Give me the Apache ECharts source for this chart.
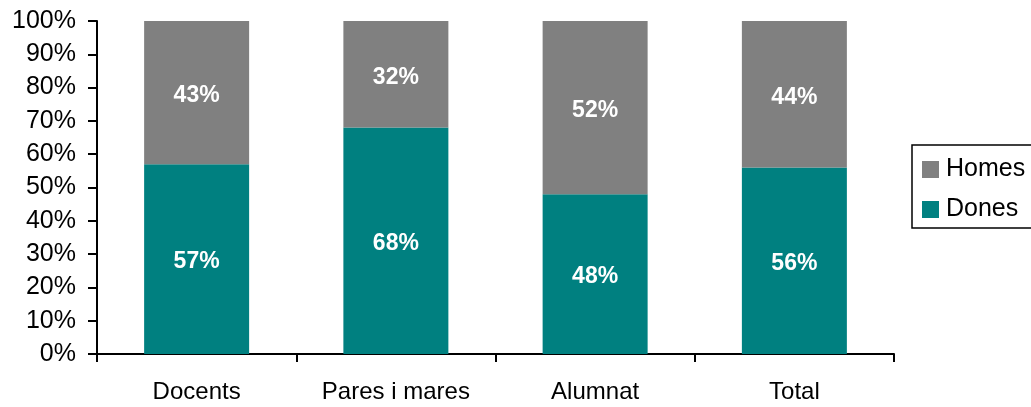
<!DOCTYPE html>
<html>
<head>
<meta charset="utf-8">
<script src="https://cdn.jsdelivr.net/npm/echarts@6/dist/echarts.min.js"></script>
<style>
  html, body { margin: 0; padding: 0; background: #fff; }
  #chart { width: 1031px; height: 407px; }
</style>
</head>
<body>
<div id="chart"></div>
<script>
const categories = ['Docents', 'Pares i mares', 'Alumnat', 'Total']
const dones = [57, 68, 48, 56]
const homes = [43, 32, 52, 44]
const yTicks = [0, 10, 20, 30, 40, 50, 60, 70, 80, 90, 100]

const font = '"Liberation Sans", Arial, sans-serif'
const myChart = echarts.init(document.getElementById('chart'))

const valueLabel = {
  show: true,
  position: 'inside',
  offset: [0, 3],
  color: '#fff',
  fontFamily: font,
  fontWeight: 'bold',
  fontSize: 23,
  formatter: p => p.value + '%'
}

myChart.setOption({
  animation: false,
  grid: {
    left: 97,
    right: 137,
    top: 21,
    bottom: 53
  },
  legend: {
    orient: 'vertical',
    left: 912,
    top: 145,
    data: ['Homes', 'Dones'],
    icon: 'rect',
    itemWidth: 17,
    itemHeight: 17,
    itemGap: 15,
    padding: [12, 30, 6, 10],
    borderColor: '#000',
    borderWidth: 1.5,
    borderRadius: 0,
    textStyle: {
      fontFamily: font,
      fontSize: 25,
      lineHeight: 20,
      color: '#000',
      padding: [0, 0, 0, 2]
    }
  },
  xAxis: {
    type: 'category',
    data: categories,
    axisLine: { lineStyle: { color: '#000', width: 2 } },
    axisTick: { show: true, interval: 0, length: 8, lineStyle: { color: '#000', width: 2 } },
    axisLabel: { interval: 0, color: '#000', fontFamily: font, fontSize: 24, margin: 26 }
  },
  yAxis: {
    type: 'value',
    min: yTicks[0],
    max: yTicks[yTicks.length - 1],
    interval: 10,
    splitLine: { show: false },
    axisLine: { show: true, lineStyle: { color: '#000', width: 2 } },
    axisTick: { show: true, length: 9, lineStyle: { color: '#000', width: 2 } },
    axisLabel: {
      color: '#000',
      fontFamily: font,
      fontSize: 25,
      margin: 21,
      formatter: v => v + '%'
    }
  },
  series: [
    {
      name: 'Dones',
      type: 'bar',
      stack: 'total',
      barWidth: 105,
      data: dones,
      itemStyle: { color: '#008080' },
      label: valueLabel
    },
    {
      name: 'Homes',
      type: 'bar',
      stack: 'total',
      barWidth: 105,
      data: homes,
      itemStyle: { color: '#808080' },
      label: valueLabel
    }
  ]
})
window.addEventListener('resize', () => { myChart.resize() })
</script>
</body>
</html>
